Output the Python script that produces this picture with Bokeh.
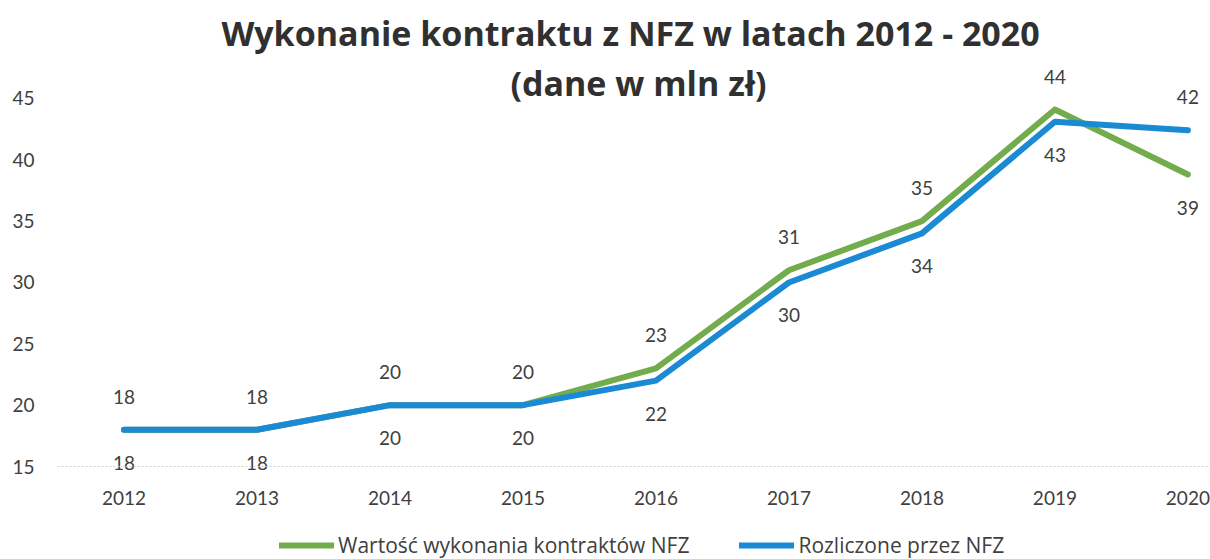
from bokeh.plotting import figure
from bokeh.layouts import column
from bokeh.models import Range1d, FixedTicker, Label, Legend, LegendItem, ColumnDataSource, Span
from bokeh.embed import file_html
from bokeh.resources import INLINE
from bokeh.core.properties import value

years = ["2012", "2013", "2014", "2015", "2016", "2017", "2018", "2019", "2020"]
wartosc = [18, 18, 20, 20, 23, 31, 35, 44.1, 38.8]
rozliczone = [18, 18, 20, 20, 22, 30, 34, 43.1, 42.4]
y_ticks = [15, 20, 25, 30, 35, 40, 45]
title_1 = "Wykonanie kontraktu z NFZ w latach 2012 - 2020"
title_2 = "(dane w mln zł)"
name_green = "Wartość wykonania kontraktów NFZ"
name_blue = "Rozliczone przez NFZ"

GREEN = "#72AC4D"
BLUE = "#1A8AD4"
FONT = "Lato"
TXT = "#404040"

xs = list(range(len(years)))

p = figure(width=1210, height=529, output_backend="svg", toolbar_location=None,
           x_range=Range1d(-0.5, 8.17), y_range=Range1d(13.859, 52.17),
           min_border_left=57, min_border_right=0, min_border_top=10, min_border_bottom=49)
p.outline_line_color = None
p.grid.visible = False
p.background_fill_color = "white"

p.add_layout(Span(location=y_ticks[0], dimension="width", line_color="#cfcfcf",
                  line_dash="2 2", line_width=1))

r_g = p.line(xs, wartosc, line_color=GREEN, line_width=6, line_join="round", line_cap="round")
r_b = p.line(xs, rozliczone, line_color=BLUE, line_width=6, line_join="round", line_cap="round")

# data labels: higher series above, lower series below
g_off = [-33 if g >= b else 33 for g, b in zip(wartosc, rozliczone)]
b_off = [33 if g >= b else -33 for g, b in zip(wartosc, rozliczone)]
src_g = ColumnDataSource(dict(x=xs, y=wartosc, t=[str(round(v)) for v in wartosc], off=g_off))
src_b = ColumnDataSource(dict(x=xs, y=rozliczone, t=[str(round(v)) for v in rozliczone], off=b_off))
for src in (src_g, src_b):
    p.text(x="x", y="y", text="t", y_offset="off", source=src, text_align="center",
           text_baseline="middle", text_font=value(FONT), text_font_size="19px", text_color=TXT)

p.xaxis.ticker = FixedTicker(ticks=xs)
p.xaxis.major_label_overrides = {i: y for i, y in enumerate(years)}
p.xaxis.major_tick_line_color = None
p.xaxis.minor_tick_line_color = None
p.xaxis.axis_line_color = None
p.xaxis.major_label_standoff = 4
p.xaxis.major_label_text_font = FONT
p.xaxis.major_label_text_font_size = "19px"
p.xaxis.major_label_text_color = TXT

p.yaxis.ticker = FixedTicker(ticks=y_ticks)
p.yaxis.axis_line_color = None
p.yaxis.major_tick_line_color = None
p.yaxis.minor_tick_line_color = None
p.yaxis.major_label_standoff = 17
p.yaxis.major_label_text_font = FONT
p.yaxis.major_label_text_font_size = "19px"
p.yaxis.major_label_text_color = TXT

TFONT = "Open Sans"
p.add_layout(Label(x=3.809, y=50.3, text=title_1, text_align="center", text_baseline="middle",
                   text_font=TFONT, text_font_size="34px", text_font_style="bold", text_color="#303030"))
p.add_layout(Label(x=3.869, y=46.3, text=title_2, text_align="center", text_baseline="middle",
                   text_font=TFONT, text_font_size="34px", text_font_style="bold", text_color="#303030"))

# legend strip below the chart (single-point proxies: nothing is drawn, only legend swatches)
q = figure(width=1210, height=30, output_backend="svg", toolbar_location=None,
           x_range=Range1d(0, 1), y_range=Range1d(0, 1), x_axis_type=None, y_axis_type=None,
           min_border_left=0, min_border_right=0, min_border_top=0, min_border_bottom=0)
q.outline_line_color = None
q.grid.visible = False
lg_g = q.line(x=xs[:1], y=wartosc[:1], line_color=GREEN, line_width=6, line_cap="round")
lg_b = q.line(x=xs[:1], y=rozliczone[:1], line_color=BLUE, line_width=6, line_cap="round")
legend = Legend(items=[LegendItem(label=name_green, renderers=[lg_g]),
                       LegendItem(label=name_blue, renderers=[lg_b])],
                orientation="horizontal", location=(222, 0), margin=0,
                glyph_width=55, glyph_height=20, label_standoff=4, spacing=50, padding=0,
                border_line_color=None, background_fill_alpha=0,
                label_text_font="Open Sans", label_text_font_size="21px", label_text_color=TXT)
q.add_layout(legend)

open("out.html", "w").write(file_html(column(p, q, spacing=0), INLINE))
